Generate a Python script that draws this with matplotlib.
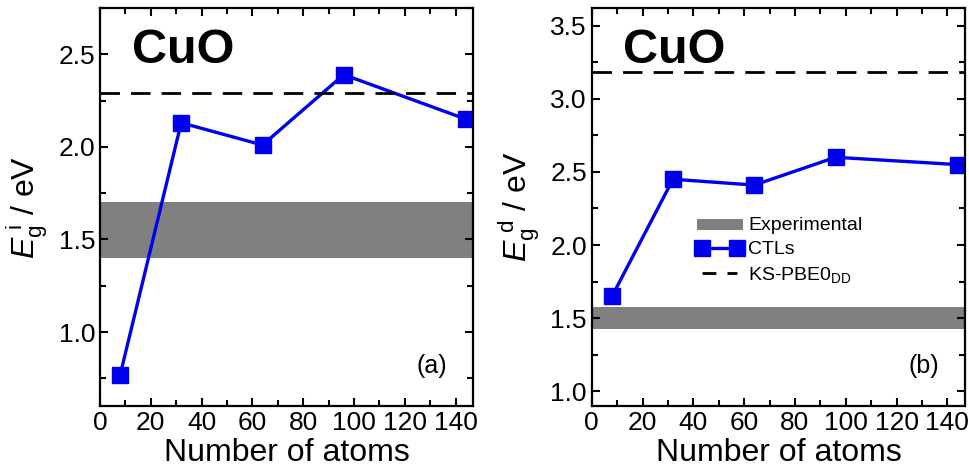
import matplotlib
matplotlib.use("Agg")
import matplotlib.pyplot as plt
from matplotlib.ticker import MultipleLocator

plt.rcParams['font.family'] = ['Liberation Sans', 'DejaVu Sans']
plt.rcParams['mathtext.fontset'] = 'custom'
plt.rcParams['mathtext.rm'] = 'Liberation Sans'
plt.rcParams['mathtext.it'] = 'Liberation Sans:italic'

# data
n_atoms = [8, 32, 64, 96, 144]
gap_indirect = [0.77, 2.13, 2.01, 2.39, 2.15]
gap_direct = [1.65, 2.45, 2.41, 2.60, 2.55]
exp_indirect = (1.40, 1.70)
exp_direct = (1.43, 1.58)
pbe0_indirect = 2.29
pbe0_direct = 3.18

panels = [
    dict(y=gap_indirect, band=exp_indirect, ks=pbe0_indirect, ylim=(0.6, 2.75),
         ylabel=r'$\mathit{E}_\mathrm{g}^{\ \mathrm{i}}$ / eV', tag='(a)'),
    dict(y=gap_direct, band=exp_direct, ks=pbe0_direct, ylim=(0.9, 3.62),
         ylabel=r'$\mathit{E}_\mathrm{g}^{\ \mathrm{d}}$ / eV', tag='(b)'),
]

fig = plt.figure(figsize=(9.7, 4.7), dpi=100)
boxes = [[0.103, 0.136, 0.385, 0.847], [0.610, 0.136, 0.385, 0.847]]

for box, p in zip(boxes, panels):
    ax = fig.add_axes(box)
    ax.axhspan(p['band'][0], p['band'][1], color='#808080', lw=0, label='Experimental')
    ax.plot(n_atoms, p['y'], '-s', color='#0000ee', lw=2.4, ms=11, label='CTLs')
    ax.axhline(p['ks'], color='black', lw=2, dashes=(7, 4), label=r'KS-PBE0$_\mathrm{DD}$')
    ax.set_xlim(0, 147)
    ax.set_ylim(*p['ylim'])
    ax.xaxis.set_major_locator(MultipleLocator(20))
    ax.xaxis.set_minor_locator(MultipleLocator(10))
    ax.yaxis.set_major_locator(MultipleLocator(0.5))
    ax.yaxis.set_minor_locator(MultipleLocator(0.25))
    ax.tick_params(which='both', direction='in', top=True, right=True, width=1.5, labelsize=19)
    ax.tick_params(which='major', length=6)
    ax.tick_params(which='minor', length=4)
    for s in ax.spines.values():
        s.set_linewidth(1.6)
    ax.set_xlabel('Number of atoms', fontsize=23, labelpad=2)
    ax.set_ylabel(p['ylabel'], fontsize=23, labelpad=6)
    ax.text(0.085, 0.862, 'CuO', transform=ax.transAxes, fontsize=35, fontweight='bold')
    ax.text(0.93, 0.10, p['tag'], transform=ax.transAxes, fontsize=18, ha='right', va='center')

leg = ax.legend(loc='center left', bbox_to_anchor=(0.26, 0.39), frameon=False, fontsize=14,
                handlelength=2.4, handletextpad=0.25, labelspacing=0.35, borderaxespad=0,
                numpoints=2)
leg.legend_handles[0].set_height(8)
leg.legend_handles[2].set_dashes((5, 4))

fig.savefig('out.png', dpi=100)
